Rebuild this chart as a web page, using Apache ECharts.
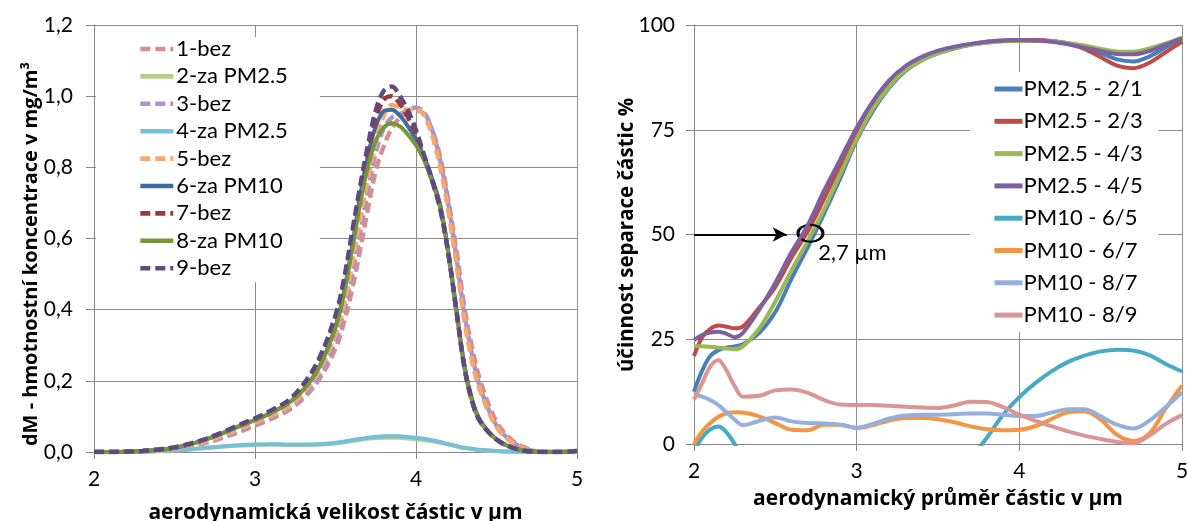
<!DOCTYPE html>
<html><head><meta charset="utf-8">
<script src="https://cdn.jsdelivr.net/npm/echarts/dist/echarts.min.js"></script>
<style>html,body{margin:0;padding:0;background:#fff}#c{width:1187px;height:521px}</style>
</head><body><div id="c"></div><script>
// ---------- LEFT CHART DATA ----------
const xL = [2.0,2.1,2.2,2.3,2.4,2.5,2.6,2.7,2.8,2.9,3.0,3.1,3.2,3.3,3.4,3.5,3.55,3.6,3.65,3.7,3.75,3.8,3.85,3.9,3.95,4.0,4.05,4.1,4.15,4.2,4.25,4.3,4.35,4.4,4.5,4.6,4.7,4.8,4.9,5.0];
const namesL = ['1-bez','2-za PM2.5','3-bez','4-za PM2.5','5-bez','6-za PM10','7-bez','8-za PM10','9-bez'];
const s1 = [0,0,0.001,0.002,0.004,0.008,0.015,0.026,0.04,0.056,0.074,0.093,0.115,0.15,0.205,0.29,0.36,0.45,0.56,0.68,0.79,0.86,0.91,0.94,0.955,0.96,0.95,0.905,0.83,0.71,0.57,0.41,0.29,0.2,0.085,0.032,0.008,0,0,0];
const s2 = [0,0,0.001,0.001,0.002,0.004,0.007,0.011,0.015,0.018,0.02,0.021,0.02,0.02,0.021,0.024,0.027,0.03,0.034,0.037,0.039,0.04,0.04,0.04,0.038,0.036,0.033,0.03,0.026,0.021,0.016,0.011,0.008,0.005,0.002,0.001,0,0,0,0];
const s3 = [0,0,0.001,0.002,0.004,0.009,0.017,0.028,0.043,0.06,0.078,0.097,0.12,0.155,0.215,0.31,0.39,0.49,0.61,0.73,0.84,0.91,0.94,0.95,0.96,0.968,0.955,0.905,0.82,0.7,0.55,0.39,0.27,0.18,0.075,0.028,0.006,0,0,0];
const s4 = [0,0,0.001,0.002,0.003,0.005,0.008,0.012,0.016,0.019,0.021,0.022,0.021,0.021,0.022,0.026,0.029,0.033,0.037,0.04,0.043,0.044,0.045,0.044,0.042,0.04,0.037,0.033,0.028,0.022,0.017,0.012,0.009,0.006,0.003,0.001,0,0,0,0];
const s5 = [0,0,0.001,0.002,0.005,0.01,0.019,0.031,0.047,0.065,0.083,0.102,0.125,0.165,0.23,0.33,0.41,0.52,0.645,0.765,0.87,0.945,0.975,0.968,0.962,0.965,0.945,0.89,0.8,0.68,0.53,0.37,0.25,0.17,0.07,0.025,0.005,0,0,0.002];
const s6 = [0,0,0.001,0.003,0.006,0.012,0.022,0.036,0.053,0.072,0.09,0.11,0.135,0.175,0.24,0.352,0.445,0.57,0.71,0.83,0.915,0.958,0.962,0.945,0.915,0.878,0.83,0.768,0.695,0.565,0.405,0.245,0.145,0.088,0.036,0.012,0.002,0,0,0.003];
const s7 = [0,0,0.001,0.003,0.007,0.013,0.023,0.037,0.055,0.074,0.093,0.115,0.14,0.185,0.258,0.375,0.47,0.6,0.725,0.84,0.935,0.99,1.0,0.978,0.94,0.892,0.83,0.762,0.683,0.56,0.4,0.24,0.14,0.085,0.035,0.012,0.002,0,0,0.003];
const s8 = [0,0,0.001,0.003,0.006,0.012,0.022,0.036,0.053,0.072,0.09,0.11,0.135,0.175,0.24,0.35,0.44,0.56,0.69,0.8,0.875,0.912,0.924,0.915,0.892,0.862,0.82,0.76,0.69,0.56,0.4,0.24,0.14,0.085,0.035,0.012,0.002,0,0,0.003];
const s9 = [0,0,0.001,0.003,0.007,0.013,0.024,0.038,0.056,0.076,0.095,0.117,0.143,0.19,0.265,0.385,0.48,0.61,0.74,0.86,0.96,1.015,1.027,1.0,0.96,0.905,0.835,0.765,0.685,0.56,0.4,0.24,0.14,0.085,0.035,0.012,0.002,0,0,0.003];
const valuesL = [s1,s2,s3,s4,s5,s6,s7,s8,s9];
const yTickLabelsL = ['0,0','0,2','0,4','0,6','0,8','1,0','1,2'];
const xTickLabels = ['2','3','4','5'];

// ---------- RIGHT CHART DATA ----------
const xR = [2.0,2.05,2.1,2.15,2.2,2.25,2.3,2.4,2.5,2.6,2.7,2.8,2.9,3.0,3.1,3.2,3.3,3.4,3.5,3.6,3.7,3.8,3.9,4.0,4.1,4.2,4.3,4.4,4.5,4.6,4.7,4.8,4.9,5.0];
const namesR = ['PM2.5 - 2/1','PM2.5 - 2/3','PM2.5 - 4/3','PM2.5 - 4/5','PM10 - 6/5','PM10 - 6/7','PM10 - 8/7','PM10 - 8/9'];
const r21 = [12.5,17.5,21,22.4,23,23.3,23.8,26.5,31.5,39.5,47,55,63.5,72.5,79.5,85,89,91.5,93.2,94.4,95.3,95.8,96.2,96.3,96.3,96.1,95.5,94.6,93.3,91.8,91.3,92.5,94.7,96.8];
const r23 = [21,25.5,27.5,28.3,28,27.6,28,32.5,37.5,44.5,50.8,58.5,66.5,74,80.8,86,89.7,92,93.6,94.6,95.4,96,96.3,96.4,96.4,96.2,95.6,94.3,92.3,90.3,89.7,91,93.5,96];
const r43 = [23.3,23.3,23.2,23,22.8,22.6,23.3,27.5,34,41.5,48.5,56,64.5,72.8,80,85.3,89.2,91.6,93.3,94.5,95.3,95.8,96.1,96.2,96.2,96.1,95.7,95.1,94.3,93.7,93.6,94.4,95.6,97];
const r45 = [24.8,26,26.6,26.8,26.3,25.5,26.5,32,38.5,45.8,52.3,60.5,68,75.5,81.8,86.8,90.2,92.4,93.9,94.8,95.5,96,96.3,96.4,96.3,96,95.4,94.6,93.8,93.1,93,93.8,95.3,96.8];
const r65 = [-2,1.5,3.5,4.2,2.8,0,-3,-8,-11,-13,-14,-15,-15,-15,-14.5,-14,-13,-12,-10.5,-8,-3.5,1.5,7,11.2,14.6,17.4,19.6,21.1,22.1,22.5,22.3,21.2,19.1,17.3];
const r67 = [0,3,5,6.5,7.3,7.6,7.5,6.6,5,3.4,3.3,4.6,4.6,3.8,4.5,5.6,6.2,6.2,5.9,5.2,4.2,3.5,3.3,3.4,4.3,6.0,7.6,7.8,5.8,2.2,0.7,2.5,8.5,14];
const r87 = [11.8,11.3,10.5,9.3,7.6,5.8,4.5,5.5,6.3,5.4,5.0,4.9,4.6,3.9,4.8,6.1,6.8,7.0,7.0,7.1,7.3,7.3,7.0,6.7,6.7,7.5,8.3,8.3,6.6,4.6,3.7,5.6,8.8,12.3];
const r89 = [10.6,14.5,18.5,20,17.5,13.8,11.3,11.5,12.8,13,12.2,10.5,9.4,9.3,9.3,9.1,8.9,8.7,8.6,9.2,10.1,10.0,8.8,7.0,5.5,4.2,3.0,2.0,1.2,0.5,0.2,2.0,4.8,6.9];
const valuesR = [r21,r23,r43,r45,r65,r67,r87,r89];
const yTickLabelsR = ['0','25','50','75','100'];
const cut50 = [[2, 50], [2.57, 50]];      // arrow at 50 %
const cutPoint = [2.716, 50.3];           // circled crossing (2,7 µm)
const cutLabelAt = [2.974, 45.6];
const cutLabel = '2,7 µm';

// ---------- STYLE ----------
const FONT = 'Lato';
const TFONT = 'Open Sans';
const colorsL = ['#D98E8C','#B2D08C','#A896C6','#77BFD6','#F8A86E','#3D6CA4','#9B3A37','#76963C','#5E4A80'];
const dashedL = [true,false,true,false,true,false,true,false,true];
const colorsR = ['#4A7EBB','#BE4B48','#98B954','#7D60A0','#46AAC5','#F59443','#94B0DA','#DA9694'];
const gridCol = '#8c8c8c';

function pairs(xs, ys){ return xs.map((x,i)=>[x, ys[i]]); }

const series = [];
namesL.forEach((n,i)=>{
  series.push({
    name:n, type:'line', xAxisIndex:0, yAxisIndex:0, data:pairs(xL, valuesL[i]),
    symbol:'none', showSymbol:false, smooth:0.35, clip:true,
    lineStyle:{width:dashedL[i]?4.4:4, color:colorsL[i], type:dashedL[i]?[10,5]:'solid', cap:'butt'},
    itemStyle:{color:colorsL[i]}, z:2+i
  });
});
namesR.forEach((n,i)=>{
  series.push({
    name:n, type:'line', xAxisIndex:1, yAxisIndex:1, data:pairs(xR, valuesR[i]),
    symbol:'none', showSymbol:false, smooth:0.35, clip:true,
    lineStyle:{width:4, color:colorsR[i]}, itemStyle:{color:colorsR[i]}, z:2+i
  });
});
// annotation on the last right series
series[series.length-1].markLine = {
  silent:true, symbol:['none','arrow'], symbolSize:[11,14], animation:false,
  lineStyle:{color:'#000', width:2.2, type:'solid'}, label:{show:false},
  data:[[{coord:cut50[0]},{coord:cut50[1]}]]
};
series[series.length-1].markPoint = {
  silent:true, animation:false,
  data:[
    {coord:cutPoint, symbol:'circle', symbolSize:[25,17], itemStyle:{color:'rgba(0,0,0,0)', borderColor:'#000', borderWidth:2.5}, label:{show:false}},
    {coord:cutLabelAt, symbol:'rect', symbolSize:1, itemStyle:{color:'rgba(0,0,0,0)'}, label:{show:true, position:'inside', formatter:cutLabel, color:'#000', fontSize:22, fontFamily:FONT}}
  ]
};

function xAxisCfg(g, name, gap, fs){
  return {gridIndex:g, type:'value', min:2, max:5, interval:1,
    axisLine:{show:true, onZero:false, lineStyle:{color:'#868686', width:1}},
    axisTick:{show:true, length:7, lineStyle:{color:'#868686'}},
    axisLabel:{fontSize:21, color:'#000', margin:17, fontFamily:FONT, formatter:(v)=>xTickLabels[Math.round(v-2)]},
    splitLine:{show:true, lineStyle:{color:gridCol, width:1}},
    name:name, nameLocation:'middle', nameGap:gap,
    nameTextStyle:{fontWeight:'bold', fontSize:fs, color:'#000', fontFamily:TFONT}
  };
}
function yAxisCfg(g, max, interval, labels, margin){
  return {gridIndex:g, type:'value', min:0, max:max, interval:interval,
    axisLine:{show:true, onZero:false, lineStyle:{color:'#868686', width:1}},
    axisTick:{show:true, length:8, lineStyle:{color:'#868686'}},
    axisLabel:{fontSize:21, color:'#000', margin:margin, fontFamily:FONT, formatter:(v)=>labels[Math.round(v/interval)]},
    splitLine:{show:true, lineStyle:{color:gridCol, width:1}}
  };
}

const option = {
  animation:false,
  backgroundColor:'#fff',
  textStyle:{fontFamily:FONT},
  grid:[
    {left:94, top:25, width:483, height:427, containLabel:false, outerBoundsMode:'none'},
    {left:694, top:25, width:488, height:419, containLabel:false, outerBoundsMode:'none'}
  ],
  xAxis:[xAxisCfg(0,'aerodynamická velikost částic v µm',51,21), xAxisCfg(1,'aerodynamický průměr částic v µm',45,21)],
  yAxis:[yAxisCfg(0,1.2,0.2,yTickLabelsL,21), yAxisCfg(1,100,25,yTickLabelsR,19)],
  legend:[
    {orient:'vertical', left:96, top:37, padding:[1,32,3,42], itemGap:5.4, itemWidth:33, itemHeight:14,
     backgroundColor:'#fff', selectedMode:false, data:namesL,
     textStyle:{fontSize:22, color:'#000', lineHeight:22, fontFamily:FONT, padding:[0,0,0,-2]},
     lineStyle:{width:4.6}, itemStyle:{opacity:0}},
    {orient:'vertical', left:970, top:72, padding:[5,16,5,22], itemGap:8.3, itemWidth:28, itemHeight:14,
     backgroundColor:'#fff', selectedMode:false, data:namesR,
     textStyle:{fontSize:22, color:'#000', lineHeight:24, fontFamily:FONT, padding:[0,0,0,-4]},
     lineStyle:{width:5}, itemStyle:{opacity:0}}
  ],
  graphic:[
    {type:'text', x:31, y:254, rotation:Math.PI/2, silent:true,
     style:{text:'dM - hmotnostní koncentrace v mg/m³', font:'bold 20px "Open Sans"', fill:'#000', align:'center', verticalAlign:'middle'}},
    {type:'text', x:627, y:235, rotation:Math.PI/2, silent:true,
     style:{text:'účinnost separace částic %', font:'bold 20.5px "Open Sans"', fill:'#000', align:'center', verticalAlign:'middle'}}
  ],
  series:series
};
const chart = echarts.init(document.getElementById('c'), null, {renderer:'canvas'});
chart.setOption(option);
</script></body></html>
